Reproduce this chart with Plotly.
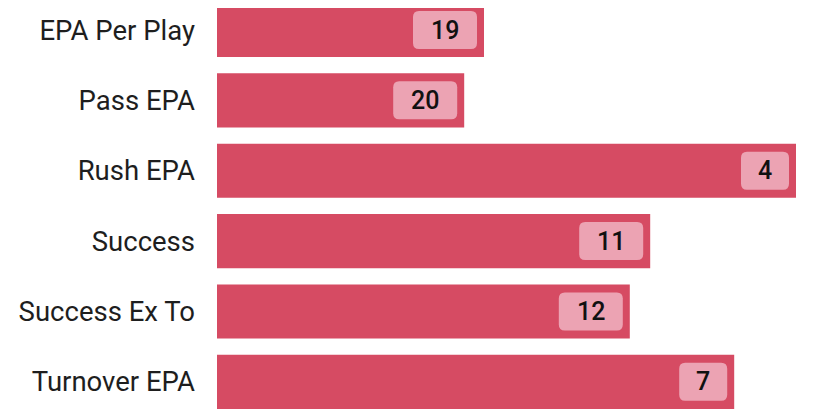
import plotly.graph_objects as go

categories = ["EPA Per Play", "Pass EPA", "Rush EPA", "Success", "Success Ex To", "Turnover EPA"]
bar_values = [44.5, 41.2, 96.5, 72.2, 68.8, 86.2]
rank_labels = ["19", "20", "4", "11", "12", "7"]

BAR = "#d64b63"
BADGE = "#eca3b3"

fig = go.Figure(go.Bar(
    x=bar_values, y=categories, orientation="h",
    marker=dict(color=BAR, line=dict(width=0)),
    width=0.77, hoverinfo="skip",
))

shapes = []
annotations = []
for cat, v, lab in zip(categories, bar_values, rank_labels):
    w = 48 + 16 * (len(lab) - 1)
    right = -7
    left = right - w
    r = 6
    h = 19
    path = (f"M {left + r},{-h} L {right - r},{-h} Q {right},{-h} {right},{-h + r} "
            f"L {right},{h - r} Q {right},{h} {right - r},{h} L {left + r},{h} "
            f"Q {left},{h} {left},{h - r} L {left},{-h + r} Q {left},{-h} {left + r},{-h} Z")
    shapes.append(dict(type="path", xref="x", yref="y", xsizemode="pixel", ysizemode="pixel",
                       xanchor=v, yanchor=cat, path=path, fillcolor=BADGE, line=dict(width=0)))
    annotations.append(dict(x=v, y=cat, xref="x", yref="y", text=lab, showarrow=False,
                            xanchor="center", yanchor="middle", xshift=right - w / 2, yshift=0,
                            font=dict(size=25, color="#111111", family="Roboto", weight=500)))

fig.update_layout(
    width=812, height=401,
    margin=dict(l=209, r=3, t=0, b=0),
    paper_bgcolor="white", plot_bgcolor="white",
    showlegend=False,
    shapes=shapes, annotations=annotations,
    xaxis=dict(range=[0, 100], visible=False, fixedrange=True, automargin=False),
    yaxis=dict(range=[5.386, -0.3126], showgrid=False, zeroline=False, showline=False,
               ticks="", ticklabelstandoff=21, automargin=False, fixedrange=True,
               tickfont=dict(size=27.5, color="#1e1e1e", family="Roboto")),
)

fig.write_html("out.html")
